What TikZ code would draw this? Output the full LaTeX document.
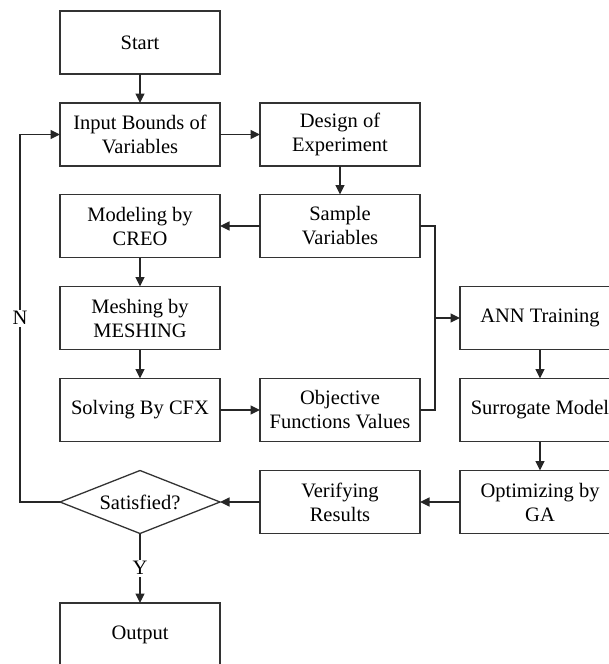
\documentclass[tikz,border=0pt]{standalone}
\usepackage{fontspec}
\setmainfont{Liberation Serif}
\usetikzlibrary{arrows.meta,shapes.geometric}
\begin{document}
\begin{tikzpicture}[x=1pt,y=-1pt,
  txt/.style={font=\fontsize{20.5}{24}\selectfont},
  box/.style={txt,draw=black!80,line width=1.3pt,minimum width=160pt,minimum height=63pt,
    inner sep=0pt,outer sep=0pt,align=center,text=black},
  dec/.style={txt,diamond,draw=black!80,line width=1.3pt,minimum width=160pt,minimum height=63pt,
    aspect=2.5,inner sep=0pt,outer sep=0pt,align=center},
  conn/.style={draw=black!85,line width=1.4pt,-{Triangle[length=9.5pt,width=9pt]}},
  line/.style={draw=black!85,line width=1.4pt},
  lbl/.style={txt,fill=white,inner sep=2pt}]
\useasboundingbox (0,0) rectangle (609,664);
\node[box] (start) at (140,42.5) {Start};
\node[box] (input) at (140,134.5) {Input Bounds of\\Variables};
\node[box] (doe) at (340,134.5) {Design of\\Experiment};
\node[box] (model) at (140,226) {Modeling by\\CREO};
\node[box] (sample) at (340,226) {Sample\\Variables};
\node[box] (mesh) at (140,318) {Meshing by\\MESHING};
\node[box] (ann) at (540,318) {ANN Training};
\node[box] (solve) at (140,410) {Solving By CFX};
\node[box] (obj) at (340,410) {Objective\\Functions Values};
\node[box] (surr) at (540,410) {Surrogate Model};
\node[dec] (sat) at (140,502) {Satisfied?};
\node[box] (verify) at (340,502) {Verifying\\Results};
\node[box] (opt) at (540,502) {Optimizing by\\GA};
\node[box] (output) at (140,634.5) {Output};

\draw[conn] (start) -- (input);
\draw[conn] (input) -- (doe);
\draw[conn] (doe) -- (sample);
\draw[conn] (sample) -- (model);
\draw[conn] (model) -- (mesh);
\draw[conn] (mesh) -- (solve);
\draw[conn] (solve) -- (obj);
\coordinate (j) at (435,318);
\draw[line] (sample.east) -| (j);
\draw[line] (obj.east) -| (j);
\draw[conn] (j) -- (ann);
\draw[conn] (ann) -- (surr);
\draw[conn] (surr) -- (opt);
\draw[conn] (opt) -- (verify);
\draw[conn] (verify) -- (sat.east);
\draw[conn] (sat.south) -- node[lbl] {Y} (output.north);
\coordinate (lb) at (20,502);
\coordinate (lt) at (20,134.5);
\draw[conn] (sat.west) -- (lb) -- node[lbl] {N} (lt) -- (input.west);
\end{tikzpicture}
\end{document}
